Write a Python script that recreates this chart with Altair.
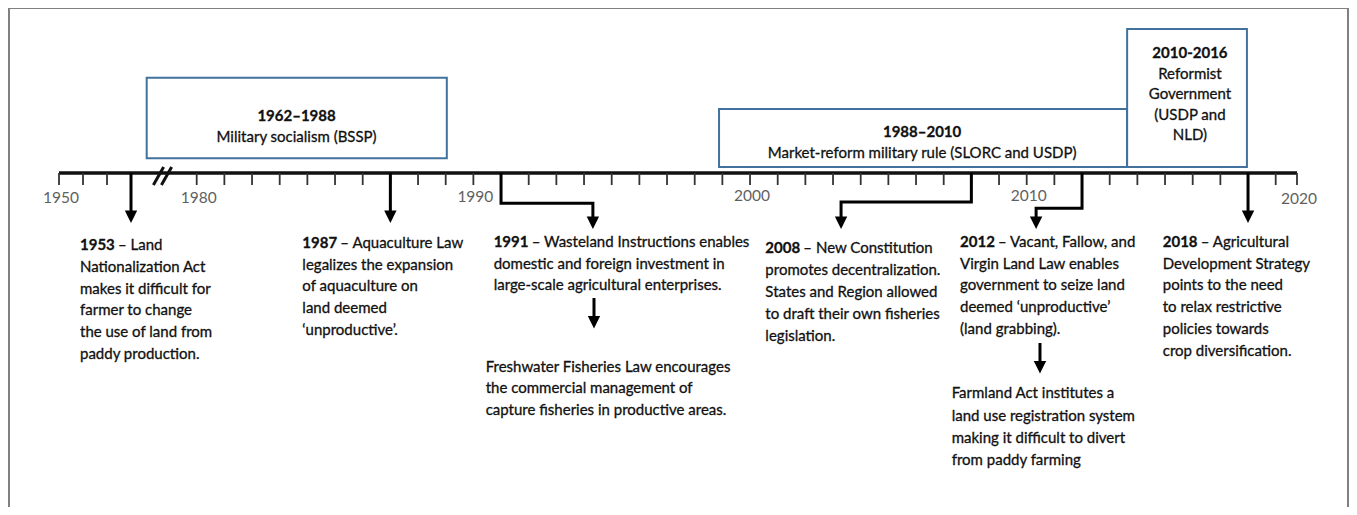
import altair as alt
import pandas as pd

W, H = 1341, 499
FONT = "Lato"
FS = 15
LH = 21.8
TXT = "#111111"
TSTROKE = 0.3

# ---------------- data ----------------
tick_years = [1950, 1951, 1952, 1953] + list(range(1980, 2021))
label_years = [1950, 1980, 1990, 2000, 2010, 2020]

period_titles = ["1962–1988", "1988–2010", "2010-2016"]
period_descs = [
    ["Military socialism (BSSP)"],
    ["Market-reform military rule (SLORC and USDP)"],
    ["Reformist", "Government", "(USDP and", "NLD)"],
]

event_years = [1953, 1987, 1991, 2008, 2012, 2018]
event_heads = ["– Land", "– Aquaculture Law", "– Wasteland Instructions enables",
               "– New Constitution", "– Vacant, Fallow, and", "– Agricultural"]
event_lines = [
    ["Nationalization Act", "makes it difficult for", "farmer to change",
     "the use of land from", "paddy production."],
    ["legalizes the expansion", "of aquaculture on", "land deemed", "‘unproductive’."],
    ["domestic and foreign investment in", "large-scale agricultural enterprises."],
    ["promotes decentralization.", "States and Region allowed",
     "to draft their own fisheries", "legislation."],
    ["Virgin Land Law enables", "government to seize land",
     "deemed ‘unproductive’", "(land grabbing)."],
    ["Development Strategy", "points to the need", "to relax restrictive",
     "policies towards", "crop diversification."],
]
follow_of = [1991, 2012]
follow_lines = [
    ["Freshwater Fisheries Law encourages", "the commercial management of",
     "capture fisheries in productive areas."],
    ["Farmland Act institutes a", "land use registration system",
     "making it difficult to divert", "from paddy farming"],
]

# ---------------- layout ----------------
xs = alt.Scale(domain=[1950, 1953, 1980, 2019, 2020],
               range=[51, 123, 188.7, 1267.7, 1289], nice=False, zero=False)
ys = alt.Scale(domain=[8, 8 + H], range=[0, H], nice=False, zero=False)

AXIS_Y = 173
label_y = [198, 198, 197, 195.5, 195.5, 199]

box_x0 = [1959.45, 1998.88, 2013.63]
box_x1 = [1989.04, 2013.63, 2017.96]
box_top = [77.7, 109, 29]
box_bot = [158.3, 167, 167]
box_cx = [1983.61, 2006.22, 2015.90]
box_title_y = [116.3, 131.7, 53.3]
box_line_h = [20.5, 21.6, 20.4]

event_dx = [-51, -88, -7.4, -206, -122, -85.3]
event_y0 = [245, 242.7, 241.7, 248.3, 241.7, 241.7]
BOLD_W = 38

# arrow paths: list of (x, y) points; heads at tips
arrow_paths = [
    [(1953, AXIS_Y), (1953, 212)],
    [(1987, AXIS_Y), (1987, 212)],
    [(2018, AXIS_Y), (2018, 212)],
    [(1991, AXIS_Y), (1991, 203.3), (1994.32, 203.3), (1994.32, 218)],
    [(2008, AXIS_Y), (2008, 202), (2003.29, 202), (2003.29, 218)],
    [(2012, AXIS_Y), (2012, 208.3), (2010.34, 208.3), (2010.34, 218)],
    [(1994.36, 298), (1994.36, 318)],
    [(2010.48, 343), (2010.48, 363)],
]
arrow_tips = [223, 223, 223, 229, 229, 229, 328.5, 373.5]
HEAD = 6.2

follow_x = [1994.36, 2010.48]
follow_dx = [-108.3, -88.3]
follow_y0 = [366.7, 393.3]
follow_lh = [21.7, 22.2]

brk_x0 = [1962.2, 1965.5]
brk_x1 = [1966.4, 1969.7]

X = lambda f: alt.X(f, type="quantitative", scale=xs, axis=None)
Y = lambda f: alt.Y(f, type="quantitative", scale=ys, axis=None)


def text_mark(**kw):
    base = dict(font=FONT, fontSize=FS, color=TXT, stroke=TXT, strokeWidth=TSTROKE,
                baseline="middle")
    base.update(kw)
    return base


layers = []

# frame
one = alt.Data(values=[{"a": 1}])
frame = alt.Chart(one).mark_rule(color="#808080", strokeWidth=2)
layers += [
    frame.encode(x=alt.value(1), y=alt.value(0), y2=alt.value(H)),
    frame.encode(x=alt.value(W - 1), y=alt.value(0), y2=alt.value(H)),
    frame.encode(y=alt.value(0), x=alt.value(0), x2=alt.value(W)),
]

# boxes
boxes = pd.DataFrame({"x": box_x0, "x2": box_x1, "y": box_top, "y2": box_bot})
layers.append(
    alt.Chart(boxes).mark_rect(fill="white", stroke="#41719c", strokeWidth=2)
    .encode(x=X("x"), x2="x2", y=Y("y"), y2="y2")
)

# box texts
layers.append(
    alt.Chart(pd.DataFrame({"x": box_cx, "y": box_title_y, "t": period_titles}))
    .mark_text(**text_mark(fontWeight="bold", align="center"))
    .encode(x=X("x"), y=Y("y"), text="t:N")
)
rows = []
for cx, ty, lh, lines in zip(box_cx, box_title_y, box_line_h, period_descs):
    for i, ln in enumerate(lines):
        rows.append({"x": cx, "y": ty + (i + 1) * lh, "t": ln})
layers.append(
    alt.Chart(pd.DataFrame(rows))
    .mark_text(**text_mark(align="center"))
    .encode(x=X("x"), y=Y("y"), text="t:N")
)

# timeline axis
layers.append(
    alt.Chart(pd.DataFrame({"x": [1950], "x2": [2020], "y": [AXIS_Y]}))
    .mark_rule(color="#111111", strokeWidth=3.5)
    .encode(x=X("x"), x2="x2", y=Y("y"))
)
layers.append(
    alt.Chart(pd.DataFrame({"x": tick_years, "y": AXIS_Y, "y2": AXIS_Y + 12}))
    .mark_rule(color="#333333", strokeWidth=1.8)
    .encode(x=X("x"), y=Y("y"), y2="y2")
)
layers.append(
    alt.Chart(pd.DataFrame({"x": label_years, "y": label_y, "t": [str(v) for v in label_years]}))
    .mark_text(font=FONT, fontSize=15.5, color="#5f5f5f", align="center", baseline="middle", dx=2)
    .encode(x=X("x"), y=Y("y"), text="t:N")
)
# axis break
layers.append(
    alt.Chart(pd.DataFrame({"x": brk_x0, "x2": brk_x1, "y": [185, 185], "y2": [167, 167]}))
    .mark_rule(color="#111111", strokeWidth=3)
    .encode(x=X("x"), x2="x2", y=Y("y"), y2="y2")
)

# arrows
prow = []
for k, pts in enumerate(arrow_paths):
    for o, (px, py) in enumerate(pts):
        prow.append({"id": k, "o": o, "x": px, "y": py})
layers.append(
    alt.Chart(pd.DataFrame(prow))
    .mark_line(color="#000000", strokeWidth=3, strokeJoin="miter", strokeCap="butt")
    .encode(x=X("x"), y=Y("y"), detail="id:N", order="o:Q")
)
heads = pd.DataFrame({"x": [p[-1][0] for p in arrow_paths],
                      "y": [t - HEAD for t in arrow_tips]})
layers.append(
    alt.Chart(heads)
    .mark_point(shape="M-1,-1L1,-1L0,1Z", filled=True, fill="#000000", stroke=None,
                size=(2 * HEAD) ** 2, opacity=1)
    .encode(x=X("x"), y=Y("y"))
)

# event texts
for yr, head, lines, dx, y0 in zip(event_years, event_heads, event_lines, event_dx, event_y0):
    layers.append(
        alt.Chart(pd.DataFrame({"x": [yr], "y": [y0], "t": [str(yr)]}))
        .mark_text(**text_mark(fontWeight="bold", align="left", dx=dx))
        .encode(x=X("x"), y=Y("y"), text="t:N")
    )
    ys_ = [y0] + [y0 + (i + 1) * LH for i in range(len(lines))]
    df = pd.DataFrame({"x": [yr] * (len(lines) + 1), "y": ys_, "t": [head] + lines})
    layers.append(
        alt.Chart(df.iloc[:1])
        .mark_text(**text_mark(align="left", dx=dx + BOLD_W))
        .encode(x=X("x"), y=Y("y"), text="t:N")
    )
    layers.append(
        alt.Chart(df.iloc[1:])
        .mark_text(**text_mark(align="left", dx=dx))
        .encode(x=X("x"), y=Y("y"), text="t:N")
    )

for fx, dx, y0, lh, lines in zip(follow_x, follow_dx, follow_y0, follow_lh, follow_lines):
    df = pd.DataFrame({"x": [fx] * len(lines), "y": [y0 + i * lh for i in range(len(lines))], "t": lines})
    layers.append(
        alt.Chart(df)
        .mark_text(**text_mark(align="left", dx=dx))
        .encode(x=X("x"), y=Y("y"), text="t:N")
    )

chart = (
    alt.layer(*layers)
    .properties(width=W, height=H, padding=0, autosize=alt.AutoSizeParams(type="none"),
                background="white")
    .configure_view(stroke=None)
)
chart.save("out.html", embed_options={"renderer": "svg", "actions": False})
